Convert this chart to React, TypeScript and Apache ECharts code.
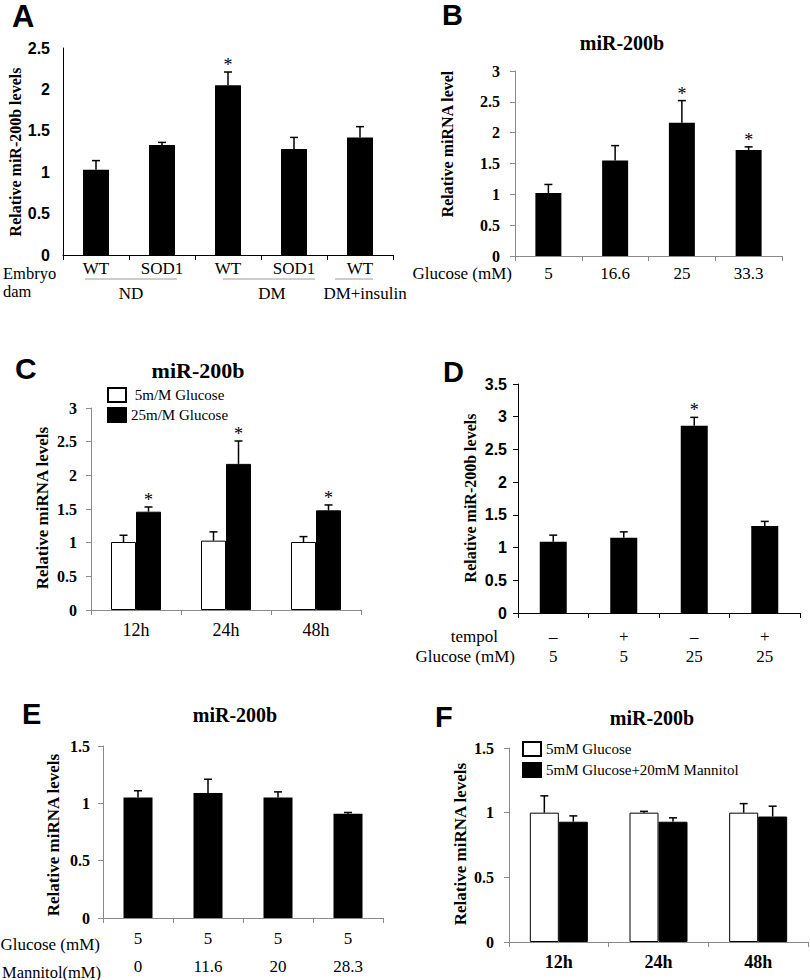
import React, { useEffect, useRef } from "react";
import * as echarts from "echarts";

// ---------- Data ----------
// Panel A
const aCats = ["WT", "SOD1", "WT", "SOD1", "WT"];
const aMeans = [1.03, 1.33, 2.05, 1.28, 1.42];
const aErrs = [0.11, 0.03, 0.16, 0.14, 0.13];
const aSig = [false, false, true, false, false];
const aTicks = [0, 0.5, 1, 1.5, 2, 2.5];

// Panel B
const bCats = ["5", "16.6", "25", "33.3"];
const bMeans = [1.02, 1.55, 2.16, 1.72];
const bErrs = [0.14, 0.24, 0.36, 0.05];
const bSig = [false, false, true, true];

// Panel C
const cCats = ["12h", "24h", "48h"];
const cLowName = " 5m/M Glucose";
const cHighName = "25m/M Glucose";
const cLow = [1.01, 1.03, 1.01];
const cLowErr = [0.1, 0.13, 0.08];
const cHigh = [1.46, 2.17, 1.48];
const cHighErr = [0.07, 0.34, 0.08];
const cHighSig = [true, true, true];

// Panel D
const dTempol = ["–", "+", "–", "+"];
const dGlucose = ["5", "5", "25", "25"];
const dMeans = [1.09, 1.15, 2.86, 1.33];
const dErrs = [0.1, 0.09, 0.13, 0.07];
const dSig = [false, false, true, false];

// Panel E
const eGlucose = ["5", "5", "5", "5"];
const eMannitol = ["0", "11.6", "20", "28.3"];
const eMeans = [1.05, 1.09, 1.05, 0.91];
const eErrs = [0.06, 0.12, 0.05, 0.01];

// Panel F
const fCats = ["12h", "24h", "48h"];
const fGluName = "5mM Glucose";
const fManName = "5mM Glucose+20mM Mannitol";
const fGlu = [1.0, 1.0, 1.0];
const fGluErr = [0.13, 0.01, 0.07];
const fMan = [0.93, 0.93, 0.97];
const fManErr = [0.045, 0.03, 0.08];

// ---------- Styles ----------
const SERIF = "'Liberation Serif', 'Times New Roman', serif";
const SANS = "'Liberation Sans', Arial, sans-serif";
const GRAY = "#8a8a8a";

function errSeries(idx: number, means: number[], errs: number[], sig: boolean[] | null, offset: number) {
  return {
    type: "custom",
    xAxisIndex: idx,
    yAxisIndex: idx,
    z: 5,
    silent: true,
    itemStyle: { color: "#000" },
    encode: { x: 0, y: 1 },
    data: means.map((m, i) => [i, m, errs[i], sig && sig[i] ? 1 : 0]),
    renderItem: (params: any, api: any) => {
      const i = api.value(0);
      const m = api.value(1);
      const e = api.value(2);
      const s = api.value(3);
      const b = api.coord([i, m]);
      const t = api.coord([i, m + e]);
      const x = b[0] + offset;
      const children: any[] = [
        { type: "line", shape: { x1: x, y1: b[1], x2: x, y2: t[1] }, style: { stroke: "#000", lineWidth: 1.5 } },
        { type: "line", shape: { x1: x - 4, y1: t[1], x2: x + 4, y2: t[1] }, style: { stroke: "#000", lineWidth: 1.5 } },
      ];
      if (s) {
        children.push({
          type: "text",
          x,
          y: t[1] - 7,
          style: { text: "*", fontSize: 18, fontFamily: SERIF, fill: "#000", align: "center", verticalAlign: "middle" },
        });
      }
      return { type: "group", children };
    },
  };
}

function yAxis(idx: number, max: number, color: string, labelFont: string, margin: number, showTick: boolean) {
  return {
    type: "value",
    gridIndex: idx,
    min: 0,
    max,
    interval: 0.5,
    axisLine: { show: true, lineStyle: { color, width: 1 } },
    axisTick: { show: showTick, length: 5, lineStyle: { color } },
    splitLine: { show: false },
    axisLabel: {
      margin,
      color: "#000",
      fontFamily: labelFont,
      fontWeight: "bold",
      fontSize: 16,
      lineHeight: 14,
    },
  };
}

function xAxis(idx: number, data: string[], color: string, label: any) {
  return {
    type: "category",
    gridIndex: idx,
    data,
    axisLine: { show: true, lineStyle: { color, width: 1 } },
    axisTick: { show: true, length: 5, lineStyle: { color } },
    axisLabel: { interval: 0, color: "#000", fontFamily: SERIF, ...label },
  };
}

function txt(x: number, y: number, text: string, size: number, opts: any = {}) {
  return {
    type: "text",
    x,
    y,
    rotation: opts.rotation || 0,
    style: {
      text,
      fontSize: size,
      fontFamily: opts.family || SERIF,
      fontWeight: opts.weight || "normal",
      fill: "#000",
      align: opts.align || "center",
      verticalAlign: "middle",
    },
  };
}

function hline(x1: number, x2: number, y: number) {
  return { type: "line", shape: { x1, y1: y, x2, y2: y }, style: { stroke: "#9a9a9a", lineWidth: 1 } };
}

export default function App() {
  const ref = useRef<HTMLDivElement>(null);

  useEffect(() => {
    if (!ref.current) return;
    const chart = echarts.init(ref.current, null, { renderer: "svg" });

    const legendBase = {
      orient: "vertical",
      itemWidth: 18,
      itemHeight: 14,
      icon: "rect",
      textStyle: { fontFamily: SERIF, fontSize: 15, color: "#000" },
      selectedMode: false,
    };

    const option: any = {
      animation: false,
      backgroundColor: "#fff",
      grid: [
        { left: 63, top: 48, width: 330, height: 207 },
        { left: 515, top: 71, width: 267, height: 185 },
        { left: 91, top: 408, width: 270, height: 202 },
        { left: 518, top: 384, width: 282, height: 229 },
        { left: 103, top: 746, width: 280, height: 178 },
        { left: 509, top: 748, width: 299, height: 194 },
      ],
      legend: [
        { ...legendBase, left: 102, top: 382, itemGap: 4, data: [cLowName, cHighName] },
        { ...legendBase, left: 517, top: 736, itemGap: 5, data: [fGluName, fManName] },
      ],
      xAxis: [
        xAxis(0, aCats, "#000", { fontSize: 17, margin: 5, lineHeight: 17 }),
        xAxis(1, bCats, GRAY, { fontSize: 17, margin: 9, lineHeight: 17 }),
        xAxis(2, cCats, GRAY, { fontSize: 18, margin: 11, lineHeight: 18 }),
        xAxis(3, dTempol, "#000", {
          fontSize: 17,
          margin: 13,
          lineHeight: 20,
          formatter: (v: string, i: number) => `${v}\n${dGlucose[i]}`,
        }),
        xAxis(4, eGlucose, GRAY, {
          fontSize: 17,
          margin: 6,
          lineHeight: 28,
          formatter: (v: string, i: number) => `${v}\n${eMannitol[i]}`,
        }),
        xAxis(5, fCats, GRAY, { fontSize: 18, fontWeight: "bold", margin: 11, lineHeight: 18 }),
      ],
      yAxis: [
        yAxis(0, aTicks[aTicks.length - 1], "#000", SANS, 13, false),
        yAxis(1, 3, GRAY, SERIF, 15, true),
        yAxis(2, 3, GRAY, SERIF, 14, true),
        yAxis(3, 3.5, "#000", SANS, 11, true),
        yAxis(4, 1.5, GRAY, SERIF, 13, true),
        yAxis(5, 1.5, GRAY, SERIF, 15, true),
      ],
      series: [
        { type: "bar", xAxisIndex: 0, yAxisIndex: 0, data: aMeans, barWidth: 26, itemStyle: { color: "#000" } },
        errSeries(0, aMeans, aErrs, aSig, 0),

        { type: "bar", xAxisIndex: 1, yAxisIndex: 1, data: bMeans, barWidth: 26, itemStyle: { color: "#000" } },
        errSeries(1, bMeans, bErrs, bSig, 0),

        {
          type: "bar",
          name: cLowName,
          xAxisIndex: 2,
          yAxisIndex: 2,
          data: cLow,
          barWidth: 25,
          barGap: "0%",
          itemStyle: { color: "#fff", borderColor: "#000", borderWidth: 1 },
        },
        {
          type: "bar",
          name: cHighName,
          xAxisIndex: 2,
          yAxisIndex: 2,
          data: cHigh,
          barWidth: 25,
          barGap: "0%",
          itemStyle: { color: "#000", borderColor: "#000", borderWidth: 1 },
        },
        errSeries(2, cLow, cLowErr, null, -12.5),
        errSeries(2, cHigh, cHighErr, cHighSig, 12.5),

        { type: "bar", xAxisIndex: 3, yAxisIndex: 3, data: dMeans, barWidth: 27, itemStyle: { color: "#000" } },
        errSeries(3, dMeans, dErrs, dSig, 0),

        { type: "bar", xAxisIndex: 4, yAxisIndex: 4, data: eMeans, barWidth: 29, itemStyle: { color: "#000" } },
        errSeries(4, eMeans, eErrs, null, 0),

        {
          type: "bar",
          name: fGluName,
          xAxisIndex: 5,
          yAxisIndex: 5,
          data: fGlu,
          barWidth: 29,
          barGap: "0%",
          itemStyle: { color: "#fff", borderColor: "#000", borderWidth: 1 },
        },
        {
          type: "bar",
          name: fManName,
          xAxisIndex: 5,
          yAxisIndex: 5,
          data: fMan,
          barWidth: 29,
          barGap: "0%",
          itemStyle: { color: "#000", borderColor: "#000", borderWidth: 1 },
        },
        errSeries(5, fGlu, fGluErr, null, -14.5),
        errSeries(5, fMan, fManErr, null, 14.5),
      ],
      graphic: {
        elements: [
          // panel letters
          txt(12, 16, "A", 31, { family: SANS, weight: "bold", align: "left" }),
          txt(442, 15, "B", 29, { family: SANS, weight: "bold", align: "left" }),
          txt(15, 368, "C", 30, { family: SANS, weight: "bold", align: "left" }),
          txt(443, 372, "D", 29, { family: SANS, weight: "bold", align: "left" }),
          txt(22, 714, "E", 29, { family: SANS, weight: "bold", align: "left" }),
          txt(435, 717, "F", 29, { family: SANS, weight: "bold", align: "left" }),
          // titles
          txt(622, 43, "miR-200b", 20, { weight: "bold" }),
          txt(198, 370, "miR-200b", 22, { weight: "bold" }),
          txt(235, 715, "miR-200b", 20, { weight: "bold" }),
          txt(652, 718, "miR-200b", 20, { weight: "bold" }),
          // y titles
          txt(15, 152, "Relative miR-200b levels", 16, { weight: "bold", rotation: Math.PI / 2 }),
          txt(447, 144, "Relative miRNA level", 16, { weight: "bold", rotation: Math.PI / 2 }),
          txt(42, 508, "Relative miRNA levels", 17, { weight: "bold", rotation: Math.PI / 2 }),
          txt(470, 498, "Relative miR-200b levels", 16, { weight: "bold", rotation: Math.PI / 2 }),
          txt(53, 835, "Relative miRNA levels", 17, { weight: "bold", rotation: Math.PI / 2 }),
          txt(460, 844, "Relative miRNA levels", 17, { weight: "bold", rotation: Math.PI / 2 }),
          // panel A row headers and groups
          txt(3, 273, "Embryo", 16.5, { align: "left" }),
          txt(3, 291, "dam", 16.5, { align: "left" }),
          hline(85, 177, 279),
          hline(223, 315, 279),
          hline(335, 373, 279),
          txt(131, 293, "ND", 17),
          txt(272, 293, "DM", 17),
          txt(365, 293, "DM+insulin", 17),
          // panel B row header
          txt(512, 273, "Glucose (mM)", 17, { align: "right" }),
          // panel D row headers
          txt(498, 636, "tempol", 17, { align: "right" }),
          txt(515, 656, "Glucose (mM)", 17, { align: "right" }),
          // panel E row headers
          txt(100, 944, "Glucose (mM)", 17, { align: "right" }),
          txt(101, 972, "Mannitol(mM)", 16.5, { align: "right" }),
        ],
      },
    };

    chart.setOption(option);
    return () => chart.dispose();
  }, []);

  return (
    <div
      ref={ref}
      style={{ position: "absolute", left: 0, top: 0, width: 810, height: 980, background: "#fff" }}
    />
  );
}
